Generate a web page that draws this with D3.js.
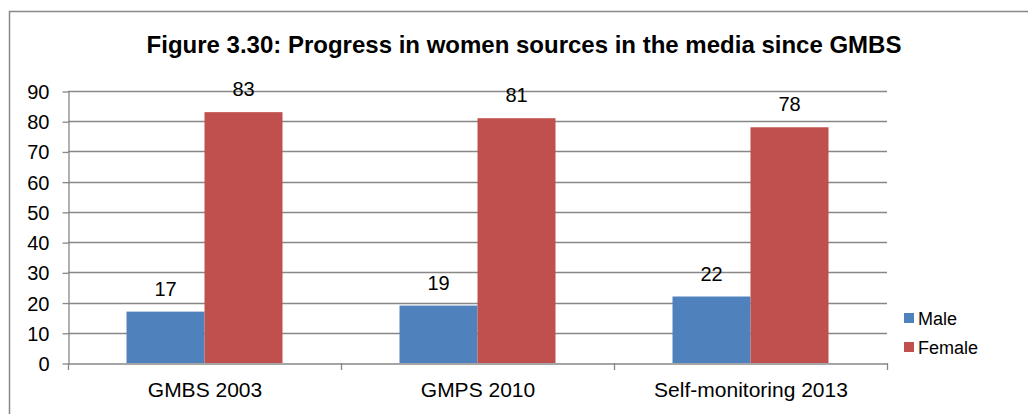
<!DOCTYPE html>
<html>
<head>
<meta charset="utf-8">
<script src="https://cdn.jsdelivr.net/npm/d3@7"></script>
<style>
  html, body { margin: 0; padding: 0; background: #fff; }
  svg { display: block; font-family: "Liberation Sans", Arial, sans-serif; }
</style>
</head>
<body>
<svg id="chart" width="1028" height="414"></svg>
<script>
// Source shares by category and sex
const categories = ["GMBS 2003", "GMPS 2010", "Self-monitoring 2013"];
const seriesNames = ["Male", "Female"];
const maleValues = [17, 19, 22];
const femaleValues = [83, 81, 78];
const yTicks = [0, 10, 20, 30, 40, 50, 60, 70, 80, 90];
const titleText = "Figure 3.30: Progress in women sources in the media since GMBS";

const colors = { Male: "#4F81BD", Female: "#C0504D" };
const gridColor = "#878787";
const labelSize = 20;

const svg = d3.select("#chart");

// Outer frame
svg.append("rect")
  .attr("x", 9.5).attr("y", 11.5)
  .attr("width", 1100).attr("height", 500)
  .attr("fill", "none").attr("stroke", "#888").attr("stroke-width", 1.5);

const plot = { left: 68, right: 887, top: 91, bottom: 363 };

const x0 = d3.scaleBand().domain(categories).range([plot.left, plot.right]).paddingInner(0).paddingOuter(0);
const x1 = d3.scaleBand().domain(seriesNames).range([0, x0.bandwidth()]).paddingInner(0).paddingOuter(0.75);
const y = d3.scaleLinear().domain([0, 90]).range([plot.bottom, plot.top]);

// Horizontal gridlines
svg.append("g").selectAll("line").data(yTicks.filter(t => t > 0)).join("line")
  .attr("x1", plot.left).attr("x2", plot.right)
  .attr("y1", d => Math.round(y(d)) + 0.5).attr("y2", d => Math.round(y(d)) + 0.5)
  .attr("stroke", gridColor).attr("stroke-width", 1.3);

const rows = categories.map((c, i) => ({ cat: c, vals: [
  { name: "Male", v: maleValues[i] },
  { name: "Female", v: femaleValues[i] }
]}));

// Bars
const groups = svg.append("g").selectAll("g").data(rows).join("g")
  .attr("transform", d => `translate(${x0(d.cat)},0)`);
groups.selectAll("rect").data(d => d.vals).join("rect")
  .attr("x", d => x1(d.name))
  .attr("y", d => y(d.v))
  .attr("width", x1.bandwidth())
  .attr("height", d => y(0) - y(d.v))
  .attr("fill", d => colors[d.name]);

// Value labels
groups.selectAll("text").data(d => d.vals).join("text")
  .attr("x", d => x1(d.name) + x1.bandwidth() / 2)
  .attr("y", d => y(d.v) - 16)
  .attr("text-anchor", "middle")
  .attr("font-size", labelSize).attr("fill", "#000")
  .text(d => d.v);

// Y axis
const yAxis = svg.append("g").attr("transform", `translate(${plot.left + 0.5},0.5)`)
  .call(d3.axisLeft(y).tickValues(yTicks).tickSize(6).tickSizeOuter(0).tickPadding(13));
yAxis.select(".domain").attr("stroke", gridColor).attr("stroke-width", 1.3);
yAxis.selectAll(".tick line").attr("stroke", gridColor).attr("stroke-width", 1.3);
yAxis.selectAll(".tick text").attr("font-size", labelSize).attr("fill", "#000")
  .attr("font-family", "Liberation Sans, Arial, sans-serif").attr("dy", "0.35em");

// X axis
const xAxis = svg.append("g").attr("transform", `translate(0.5,${plot.bottom + 0.5})`)
  .call(d3.axisBottom(x0).tickSize(0).tickSizeOuter(0).tickPadding(19));
xAxis.select(".domain").attr("stroke", gridColor).attr("stroke-width", 1.3);
xAxis.selectAll(".tick text").attr("font-size", 21).attr("fill", "#000")
  .attr("font-family", "Liberation Sans, Arial, sans-serif");
// Category separator ticks
const sepX = categories.map(c => x0(c)).concat([x0.range()[1]]);
svg.append("g").selectAll("line").data(sepX).join("line")
  .attr("x1", d => Math.round(d) + 0.5).attr("x2", d => Math.round(d) + 0.5)
  .attr("y1", plot.bottom).attr("y2", plot.bottom + 7)
  .attr("stroke", gridColor).attr("stroke-width", 1.3);

// Title
svg.append("text")
  .attr("x", 524).attr("y", 53)
  .attr("text-anchor", "middle")
  .attr("font-size", 24).attr("font-weight", "bold").attr("fill", "#000")
  .text(titleText);

// Legend
const legend = svg.append("g").selectAll("g").data(seriesNames).join("g")
  .attr("transform", (d, i) => `translate(904,${313 + i * 29})`);
legend.append("rect").attr("width", 10).attr("height", 10).attr("fill", d => colors[d]);
legend.append("text").attr("x", 14).attr("y", 12)
  .attr("font-size", 18).attr("fill", "#000").text(d => d);
</script>
</body>
</html>
